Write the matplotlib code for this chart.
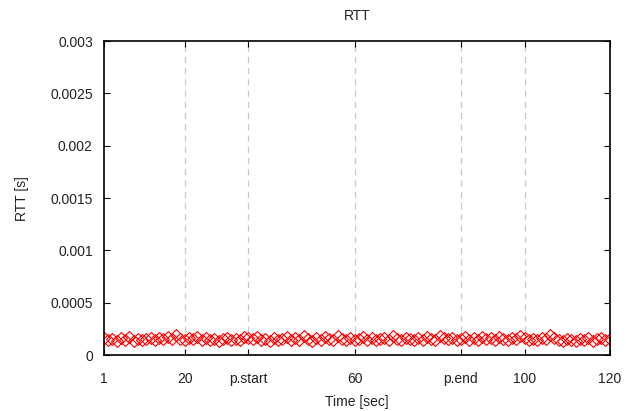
import matplotlib
matplotlib.use("Agg")
import matplotlib.pyplot as plt

plt.rcParams['font.family'] = ['Liberation Sans', 'DejaVu Sans']

# time axis ticks (p.start / p.end marks)
tick_pos = [1, 20, 35, 60, 85, 100, 120]
tick_lab = ['1', '20', 'p.start', '60', 'p.end', '100', '120']
grid_pos = [20, 35, 60, 85, 100]

# RTT samples, one per second
t = list(range(1, 121))
rtt = [
    0.000165, 0.000140, 0.000150, 0.000130, 0.000160, 0.000145, 0.000170, 0.000135, 0.000155, 0.000140,
    0.000150, 0.000165, 0.000145, 0.000160, 0.000150, 0.000170, 0.000155, 0.000195, 0.000150, 0.000140,
    0.000165, 0.000150, 0.000175, 0.000145, 0.000160, 0.000140, 0.000155, 0.000135, 0.000150, 0.000165,
    0.000140, 0.000155, 0.000145, 0.000170, 0.000160, 0.000150, 0.000175, 0.000145, 0.000155, 0.000135,
    0.000160, 0.000140, 0.000150, 0.000170, 0.000145, 0.000165, 0.000140, 0.000180, 0.000150, 0.000135,
    0.000160, 0.000145, 0.000170, 0.000150, 0.000140, 0.000185, 0.000155, 0.000145, 0.000165, 0.000140,
    0.000155, 0.000175, 0.000145, 0.000160, 0.000140, 0.000150, 0.000165, 0.000145, 0.000180, 0.000150,
    0.000140, 0.000160, 0.000150, 0.000145, 0.000165, 0.000140, 0.000170, 0.000155, 0.000145, 0.000180,
    0.000160, 0.000150, 0.000165, 0.000140, 0.000155, 0.000175, 0.000145, 0.000160, 0.000140, 0.000170,
    0.000150, 0.000160, 0.000145, 0.000175, 0.000155, 0.000140, 0.000165, 0.000150, 0.000180, 0.000160,
    0.000145, 0.000155, 0.000140, 0.000160, 0.000150, 0.000190, 0.000165, 0.000140, 0.000130, 0.000150,
    0.000145, 0.000135, 0.000155, 0.000140, 0.000160, 0.000130, 0.000150, 0.000165, 0.000140, 0.000150,
]

fig = plt.figure(figsize=(6.26, 4.11), dpi=100)
ax = fig.add_axes([0.166, 0.136, 0.808, 0.764])

for g in grid_pos:
    ax.axvline(g, color='#c8c8c8', lw=0.9, ls=(0, (5, 4)), zorder=0)

ax.plot(t, rtt, ls='none', marker='D', ms=6, mfc='none', mec='red', mew=0.8)

ax.set_xlim(1, 120)
ax.set_ylim(0, 0.003)
ax.set_xticks(tick_pos)
ax.set_xticklabels(tick_lab)
ax.set_yticks([0, 0.0005, 0.001, 0.0015, 0.002, 0.0025, 0.003])
ax.set_yticklabels(['0', '0.0005', '0.001', '0.0015', '0.002', '0.0025', '0.003'])
ax.tick_params(direction='in', top=True, right=True, length=4, width=0.8,
               labelsize=10, colors='black', labelcolor='#222222', pad=8)
ax.tick_params(axis='x', pad=12)
for s in ax.spines.values():
    s.set_linewidth(1.2)

ax.set_title('RTT', fontsize=10, pad=15, color='#222222')
ax.set_xlabel('Time [sec]', fontsize=10, labelpad=7, color='#222222')
ax.set_ylabel('RTT [s]', fontsize=10, color='#222222')
ax.yaxis.set_label_coords(-0.148, 0.5)

fig.savefig('out.png', dpi=100)
